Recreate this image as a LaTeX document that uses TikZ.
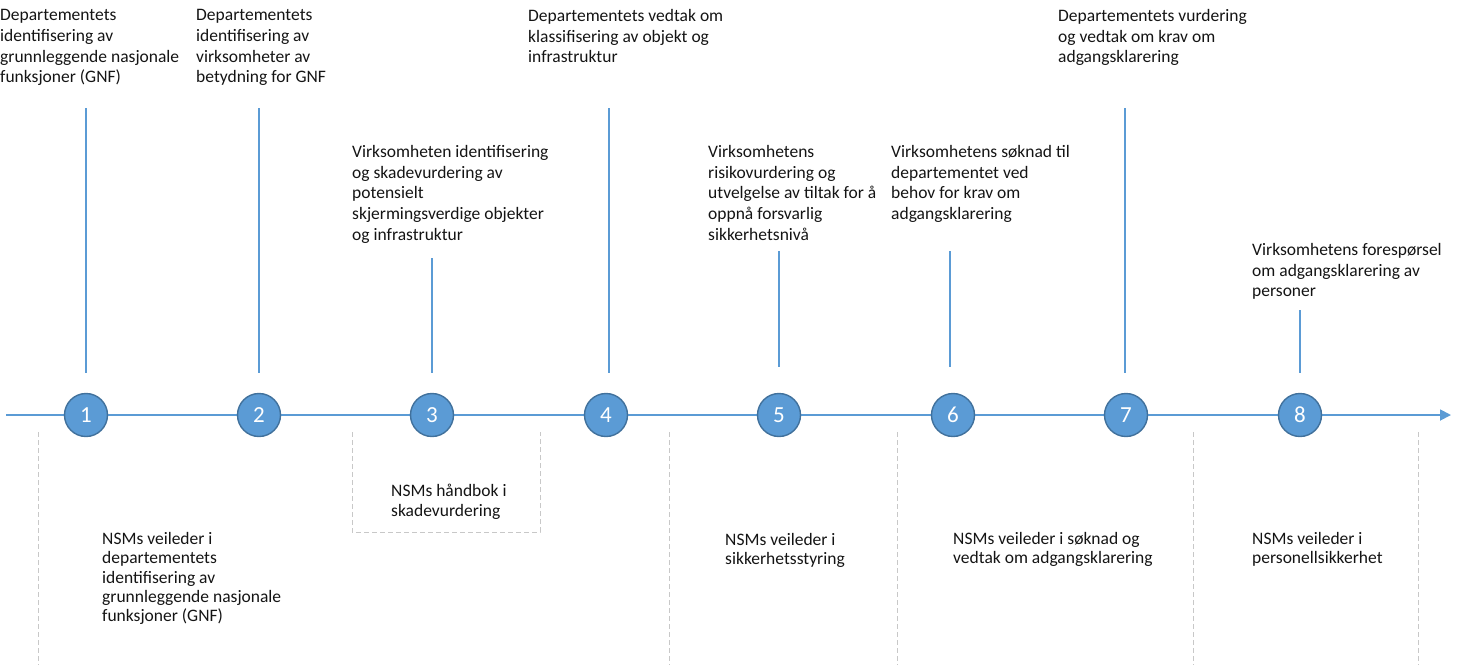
\documentclass[tikz,border=0pt]{standalone}
\usepackage{fontspec}
\setmainfont{Carlito}
\usetikzlibrary{positioning,arrows.meta,calc}

\definecolor{msblue}{HTML}{5B9BD5}
\definecolor{msborder}{HTML}{41719C}
\definecolor{divgray}{HTML}{C8C8C8}
\definecolor{textdark}{HTML}{141414}

\begin{document}
\begin{tikzpicture}[
    x=1pt, y=-1pt,
    milestone/.style={
        circle,% Numbered step on the time line
        draw=msborder,
        line width=1.4pt,
        fill=msblue,
        text=white,
        inner sep=0pt,
        minimum size=43pt,
        font=\fontsize{23}{27}\selectfont,
    },
    top_label/.style={anchor=north west, inner sep=0pt, align=left, text=textdark, font=\fontsize{17.5}{20.8}\selectfont},
    bottom_label/.style={anchor=north west, inner sep=0pt, align=left, text=textdark, font=\fontsize{17.5}{19.4}\selectfont},
    stem/.style={draw=msblue, line width=1.3pt},
    timeline/.style={draw=msblue, line width=1.8pt, -{Triangle[length=11pt,width=11pt]}},
    divider/.style={draw=divgray, line width=1pt, dash pattern=on 5pt off 3pt}
]
    \useasboundingbox (0,0) rectangle (1459,665);

    % Time line
    \coordinate (tl_start) at (6,415);
    \coordinate (tl_end) at (1451,415);
    \draw[timeline] (tl_start) -- (tl_end);

    % Nodes
    \node[milestone] (m1) at (86,415) {1};
    \node[milestone] (m2) at (259,415) {2};
    \node[milestone] (m3) at (432,415) {3};
    \node[milestone] (m4) at (606,415) {4};
    \node[milestone] (m5) at (779,415) {5};
    \node[milestone] (m6) at (953,415) {6};
    \node[milestone] (m7) at (1126,415) {7};
    \node[milestone] (m8) at (1300,415) {8};

    \node[top_label] (t1) at (0,9) {Departementets\\identifisering av\\grunnleggende nasjonale\\funksjoner (GNF)};
    \node[top_label] (t2) at (196,9) {Departementets\\identifisering av\\virksomheter av\\betydning for GNF};
    \node[top_label] (t3) at (352,145) {Virksomheten identifisering\\og skadevurdering av\\potensielt\\skjermingsverdige objekter\\og infrastruktur};
    \node[top_label] (t4) at (528,9) {Departementets vedtak om\\klassifisering av objekt og\\infrastruktur};
    \node[top_label] (t5) at (708,145) {Virksomhetens\\risikovurdering og\\utvelgelse av tiltak for å\\oppnå forsvarlig\\sikkerhetsnivå};
    \node[top_label] (t6) at (891,145) {Virksomhetens søknad til\\departementet ved\\behov for krav om\\adgangsklarering};
    \node[top_label] (t7) at (1058,9) {Departementets vurdering\\og vedtak om krav om\\adgangsklarering};
    \node[top_label] (t8) at (1252,243) {Virksomhetens forespørsel\\om adgangsklarering av\\personer};

    \node[bottom_label] (b1) at (102,532) {NSMs veileder i\\departementets\\identifisering av\\grunnleggende nasjonale\\funksjoner (GNF)};
    \node[bottom_label] (b3) at (391,484) {NSMs håndbok i\\skadevurdering};
    \node[bottom_label] (b5) at (725,533) {NSMs veileder i\\sikkerhetsstyring};
    \node[bottom_label] (b6) at (953,532) {NSMs veileder i søknad og\\vedtak om adgangsklarering};
    \node[bottom_label] (b8) at (1252,532) {NSMs veileder i\\personellsikkerhet};

    % Stems up to the labels
    \coordinate (s1) at (86,108);
    \coordinate (s2) at (259,108);
    \coordinate (s3) at (432,258);
    \coordinate (s4) at (609,108);
    \coordinate (s5) at (779,251);
    \coordinate (s6) at (950,251);
    \coordinate (s7) at (1125,108);
    \coordinate (s8) at (1300,310);
    \draw[stem] ([yshift=20pt]m1.north) -- (s1);
    \draw[stem] ([yshift=20pt]m2.north) -- (s2);
    \draw[stem] ([yshift=20pt]m3.north) -- (s3);
    \draw[stem] ([xshift=3pt,yshift=20pt]m4.north) -- (s4);
    \draw[stem] ([yshift=26pt]m5.north) -- (s5);
    \draw[stem] ([xshift=-3pt,yshift=26pt]m6.north) -- (s6);
    \draw[stem] ([xshift=-1pt,yshift=20pt]m7.north) -- (s7);
    \draw[stem] ([yshift=20pt]m8.north) -- (s8);

    % Dashed dividers below the line
    \draw[divider] (38,432) -- (38,665);
    \draw[divider] (352,432) -- (352,532) -- (540,532) -- (540,432);
    \draw[divider] (669,432) -- (669,665);
    \draw[divider] (897,432) -- (897,665);
    \draw[divider] (1193,432) -- (1193,665);
    \draw[divider] (1418,432) -- (1418,665);
\end{tikzpicture}
\end{document}
